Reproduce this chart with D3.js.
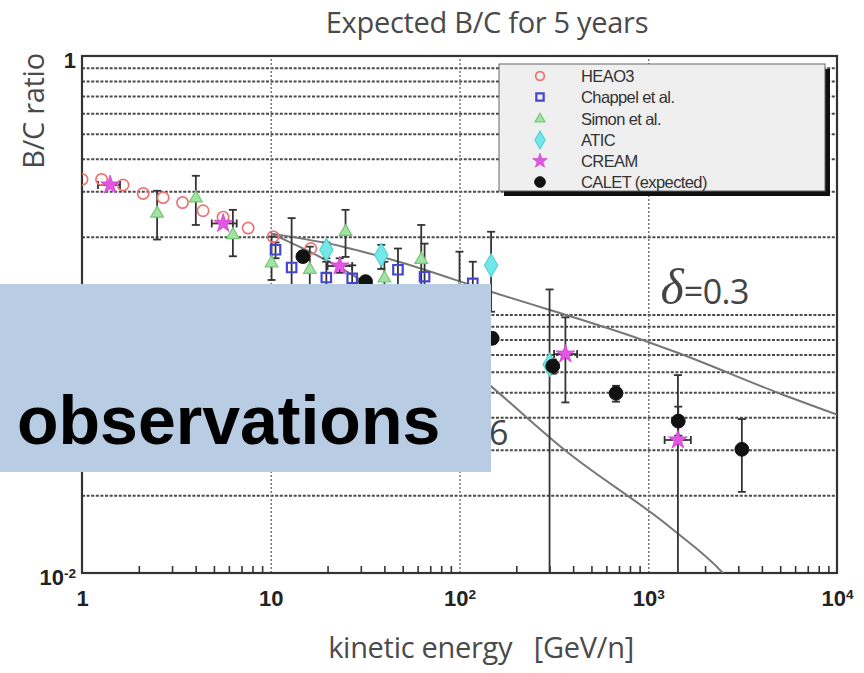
<!DOCTYPE html>
<html>
<head>
<meta charset="utf-8">
<script src="https://cdn.jsdelivr.net/npm/d3@7"></script>
<style>
  body { margin: 0; background: #fff; }
  svg { display: block; }
</style>
</head>
<body>
<svg id="chart" width="864" height="673"></svg>
<script>
// ---- data --------------------------------------------------------------
// [energy GeV/n, B/C]
const heao3 = [
  [1.0, 0.333], [1.27, 0.333], [1.65, 0.317], [2.11, 0.294], [2.69, 0.283],
  [3.41, 0.271], [4.38, 0.252], [5.59, 0.238], [7.59, 0.216], [10.3, 0.200],
  [16.3, 0.180]
];
// [energy, B/C, low, high]
const chappel = [
  [10.6, 0.178, 0.165, 0.190], [12.9, 0.152, 0.100, 0.236], [19.7, 0.139, 0.120, 0.160],
  [27.0, 0.138, 0.120, 0.155], [47.2, 0.149, 0.120, 0.180], [65.3, 0.140, 0.110, 0.188],
  [117.6, 0.132, 0.100, 0.160]
];
const simon = [
  [2.5, 0.246, 0.195, 0.301], [4.01, 0.282, 0.222, 0.344], [6.3, 0.203, 0.168, 0.254],
  [10.1, 0.158, 0.136, 0.200], [16.1, 0.149, 0.120, 0.183], [24.9, 0.209, 0.167, 0.254],
  [40.0, 0.138, 0.120, 0.160], [62.7, 0.163, 0.130, 0.222], [100, 0.125, 0.090, 0.175]
];
const atic = [
  [19.7, 0.178, 0.165, 0.190], [38.5, 0.170, 0.150, 0.186],
  [147, 0.155, 0.1025, 0.209], [300, 0.064, 0.004, 0.125]
];
// [energy, B/C, low, high, energy low, energy high]
const cream = [
  [1.41, 0.317, null, null, 1.215, 1.59], [5.6, 0.225, null, null, 4.87, 6.6],
  [23.2, 0.154, 0.145, 0.165, 20, 27], [364, 0.0703, 0.0457, 0.0975, 317, 420],
  [1436, 0.0327, 0.004, 0.0583, 1221, 1682]
];
const calet = [
  [14.8, 0.1675, 0.160, 0.175], [31.8, 0.134, 0.128, 0.140], [149, 0.0809, 0.077, 0.085],
  [312, 0.0632, 0.059, 0.067], [675, 0.0496, 0.046, 0.053], [1442, 0.0387, 0.034, 0.044],
  [3133, 0.0301, 0.0206, 0.0394]
];
// propagation model curves
const modelDelta03 = [
  [10, 0.206], [24.1, 0.183], [44.4, 0.1625], [147, 0.1225], [933, 0.0797],
  [1455, 0.0708], [4933, 0.0496], [10000, 0.041]
];
const modelDelta06 = [
  [10, 0.206], [32, 0.132], [147.7, 0.0526], [361, 0.0299], [1324, 0.0149], [2485, 0.0100], [3000, 0.0085]
];
const seriesNames = ["HEAO3", "Chappel et al.", "Simon et al.", "ATIC", "CREAM", "CALET (expected)"];
const xTickValues = [1, 10, 100, 1000, 10000];
const yTickValues = [0.01, 1];

// ---- layout ------------------------------------------------------------
const X0 = 82, X1 = 837, Y0 = 56, Y1 = 573;
const x = d3.scaleLog().domain([1, 1e4]).range([X0, X1]);
const y = d3.scaleLog().domain([0.01, 1]).range([Y1, Y0]);

const svg = d3.select("#chart");
svg.append("defs").append("clipPath").attr("id", "plot")
  .append("rect").attr("x", X0).attr("y", Y0).attr("width", X1 - X0).attr("height", Y1 - Y0);

// ---- grid ---------------------------------------------------------------
const yGrid = [];
[0.01, 0.1].forEach(dec => { for (let k = 1; k <= 9; k++) { if (k * dec > 0.0101) yGrid.push(k * dec); } });
svg.append("g").attr("transform", `translate(${X0},0)`)
  .call(d3.axisLeft(y).tickValues(yGrid).tickSize(-(X1 - X0)).tickFormat(""))
  .call(g => g.select(".domain").remove())
  .selectAll("line").attr("stroke", "#4a4a4a").attr("stroke-width", 2).attr("stroke-dasharray", "3,1.6");

svg.append("g").attr("transform", `translate(0,${Y1})`)
  .call(d3.axisBottom(x).tickValues([10, 100, 1000]).tickSize(-(Y1 - Y0)).tickFormat(""))
  .call(g => g.select(".domain").remove())
  .selectAll("line").attr("stroke", "#777").attr("stroke-width", 1.5).attr("stroke-dasharray", "2,2");

// minor ticks along the bottom
const xMinor = [];
[1, 10, 100, 1000].forEach(dec => { for (let k = 2; k <= 9; k++) xMinor.push(k * dec); });
svg.append("g").attr("transform", `translate(0,${Y1})`)
  .call(d3.axisBottom(x).tickValues(xMinor).tickSize(-7).tickFormat(""))
  .call(g => g.select(".domain").remove())
  .selectAll("line").attr("stroke", "#333").attr("stroke-width", 1.6);

// frame
svg.append("rect").attr("x", X0).attr("y", Y0).attr("width", X1 - X0).attr("height", Y1 - Y0)
  .attr("fill", "none").attr("stroke", "#333").attr("stroke-width", 2.2);

// ---- tick labels ----------------------------------------------------------
function powerLabel(sel, v) {
  const e = Math.round(Math.log10(v));
  sel.text(null);
  if (e === 0) sel.text("1");
  else if (e === 1) sel.text("10");
  else {
    sel.append("tspan").text("10");
    sel.append("tspan").attr("dy", "-0.45em").attr("font-size", "0.62em").text(String(e));
  }
}
const xAxis = svg.append("g").attr("transform", `translate(0,${Y1})`)
  .call(d3.axisBottom(x).tickValues(xTickValues).tickSize(0).tickPadding(17).tickFormat(""));
xAxis.select(".domain").remove();
xAxis.selectAll("text")
  .attr("font-family", "'Liberation Sans', Arial, sans-serif").attr("font-weight", "bold")
  .attr("font-size", 22).attr("fill", "#222")
  .each(function (d) { powerLabel(d3.select(this), d); });

const yAxis = svg.append("g").attr("transform", `translate(${X0},0)`)
  .call(d3.axisLeft(y).tickValues(yTickValues).tickSize(0).tickPadding(6).tickFormat(""));
yAxis.select(".domain").remove();
yAxis.selectAll("text")
  .attr("font-family", "'Liberation Sans', Arial, sans-serif").attr("font-weight", "bold")
  .attr("font-size", 22).attr("fill", "#222").attr("dy", "0.5em")
  .each(function (d) { powerLabel(d3.select(this), d); });

// ---- titles ---------------------------------------------------------------
const titleFont = "'Open Sans', 'DejaVu Sans', sans-serif";
svg.append("text").attr("x", 487).attr("y", 33).attr("text-anchor", "middle")
  .attr("font-family", titleFont).attr("font-size", 29).attr("letter-spacing", -0.3).attr("fill", "#4a4a4a")
  .text("Expected B/C for 5 years");
svg.append("text").attr("x", 481).attr("y", 658).attr("text-anchor", "middle")
  .attr("font-family", titleFont).attr("font-size", 29).attr("letter-spacing", -0.3).attr("fill", "#4a4a4a")
  .style("white-space", "pre")
  .text("kinetic energy   [GeV/n]");
svg.append("text").attr("transform", "translate(44,111) rotate(-90)").attr("text-anchor", "middle")
  .attr("font-family", titleFont).attr("font-size", 29).attr("letter-spacing", -0.3).attr("fill", "#4a4a4a")
  .text("B/C ratio");

// ---- model curves -----------------------------------------------------------
const plot = svg.append("g").attr("clip-path", "url(#plot)");
const line = d3.line().x(d => x(d[0])).y(d => y(d[1])).curve(d3.curveMonotoneX);
[modelDelta03, modelDelta06].forEach(m => {
  plot.append("path").attr("d", line(m)).attr("fill", "none")
    .attr("stroke", "#777").attr("stroke-width", 2);
});

// ---- error bars -------------------------------------------------------------
const errG = plot.append("g").attr("stroke", "#333").attr("stroke-width", 1.8);
function vBars(data) {
  data.filter(d => d[2] != null).forEach(d => {
    const cx = x(d[0]);
    errG.append("line").attr("x1", cx).attr("x2", cx).attr("y1", y(d[2])).attr("y2", y(d[3]));
    [d[2], d[3]].forEach(v => errG.append("line")
      .attr("x1", cx - 4).attr("x2", cx + 4).attr("y1", y(v)).attr("y2", y(v)));
  });
}
[chappel, simon, atic, cream, calet].forEach(vBars);
cream.forEach(d => {
  errG.append("line").attr("x1", x(d[4])).attr("x2", x(d[5])).attr("y1", y(d[1])).attr("y2", y(d[1]));
  [d[4], d[5]].forEach(v => errG.append("line")
    .attr("x1", x(v)).attr("x2", x(v)).attr("y1", y(d[1]) - 4).attr("y2", y(d[1]) + 4));
});

// ---- markers ----------------------------------------------------------------
const styles = [
  { data: heao3,   type: d3.symbolCircle,   size: 100, fill: "none",    stroke: "#ee7474", sw: 1.7 },
  { data: chappel, type: d3.symbolSquare,   size: 90,  fill: "none",    stroke: "#4646cc", sw: 2.2 },
  { data: simon,   type: d3.symbolTriangle, size: 70,  fill: "#a2e2a2", stroke: "#74c874", sw: 1.2 },
  { data: atic,    type: d3.symbolDiamond,  size: 150, fill: "#74e8e8", stroke: "#52d2d2", sw: 1.2 },
  { data: cream,   type: d3.symbolStar,     size: 110, fill: "#e256e2", stroke: "#d040d0", sw: 0.8 },
  { data: calet,   type: d3.symbolCircle,   size: 150, fill: "#111",    stroke: "#111",    sw: 1 }
];
styles.forEach(s => {
  plot.append("g").selectAll("path").data(s.data).join("path")
    .attr("transform", d => `translate(${x(d[0])},${y(d[1])})`)
    .attr("d", d3.symbol().type(s.type).size(s.size))
    .attr("fill", s.fill).attr("stroke", s.stroke).attr("stroke-width", s.sw);
});

// ---- legend -----------------------------------------------------------------
const lg = svg.append("g");
lg.append("rect").attr("x", 504).attr("y", 69).attr("width", 326).attr("height", 127).attr("fill", "#111");
lg.append("rect").attr("x", 499).attr("y", 64).attr("width", 326).attr("height", 127)
  .attr("fill", "#efefef").attr("stroke", "#666").attr("stroke-width", 1);
const rowY = [76, 97, 119, 140, 161, 182];
styles.forEach((s, i) => {
  lg.append("path").attr("transform", `translate(540,${rowY[i]})`)
    .attr("d", d3.symbol().type(s.type).size(s.size * 0.6))
    .attr("fill", s.fill).attr("stroke", s.stroke).attr("stroke-width", s.sw);
  lg.append("text").attr("x", 581).attr("y", rowY[i] + 6)
    .attr("font-family", "'Liberation Sans', Arial, sans-serif").attr("font-size", 16.5)
    .attr("letter-spacing", -0.6).attr("fill", "#333").text(seriesNames[i]);
});

// ---- model labels -------------------------------------------------------------
function deltaLabel(xEnd, yBase, val) {
  const t = svg.append("text").attr("x", xEnd).attr("y", yBase).attr("text-anchor", "end").attr("fill", "#444");
  t.append("tspan").attr("font-family", "'Liberation Serif', 'DejaVu Serif', serif")
    .attr("font-style", "italic").attr("font-size", 50).text("δ");
  t.append("tspan").attr("font-family", titleFont).attr("font-size", 34).attr("letter-spacing", -0.5).text("=" + val);
}
deltaLabel(749, 304, "0.3");
deltaLabel(508, 445, "0.6");

// ---- caption panel --------------------------------------------------------------
svg.append("rect").attr("x", 0).attr("y", 284).attr("width", 491).attr("height", 188).attr("fill", "#b8cce4");
svg.append("text").attr("x", 17).attr("y", 444)
  .attr("font-family", "'Liberation Sans', Arial, Helvetica, sans-serif").attr("font-weight", "bold")
  .attr("font-size", 68).attr("fill", "#000").text("observations");
</script>
</body>
</html>
